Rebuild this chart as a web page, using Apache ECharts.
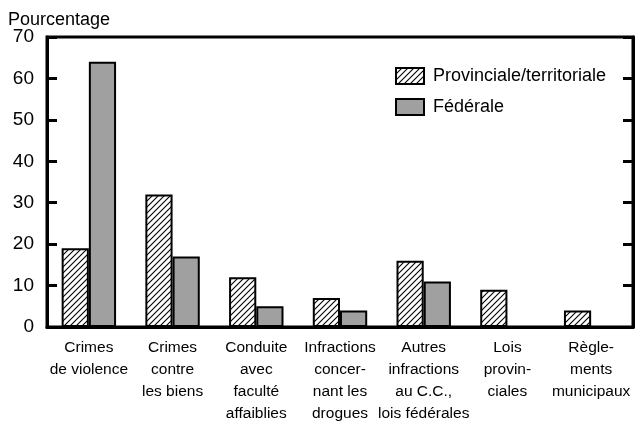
<!DOCTYPE html>
<html>
<head>
<meta charset="utf-8">
<script src="https://cdn.jsdelivr.net/npm/echarts@6/dist/echarts.min.js"></script>
<style>
  html, body { margin: 0; padding: 0; background: #fff; }
  #chart { width: 641px; height: 422px; }
</style>
</head>
<body>
<div id="chart"></div>
<script>
// categories on the x axis
const categories = [
  'Crimes\nde violence',
  'Crimes\ncontre\nles biens',
  'Conduite\navec\nfaculté\naffaiblies',
  'Infractions\nconcer-\nnant les\ndrogues',
  'Autres\ninfractions\nau C.C.,\nlois fédérales',
  'Lois\nprovin-\nciales',
  'Règle-\nments\nmunicipaux'
]
const provinciale = [19, 32, 12, 7, 16, 9, 4]
const federale = [64, 17, 5, 4, 11, null, null]
const yTicks = { min: 0, max: 70, interval: 10 }

const FONT = 'Liberation Sans, Arial, sans-serif'

// hatched fill for the provincial/territorial bars
function hatch() {
  const size = 6
  const c = document.createElement('canvas')
  c.width = size
  c.height = size
  const ctx = c.getContext('2d')
  ctx.fillStyle = '#fff'
  ctx.fillRect(0, 0, size, size)
  ctx.strokeStyle = '#000'
  ctx.lineWidth = 1.1
  ctx.beginPath()
  ctx.moveTo(-1, size + 1)
  ctx.lineTo(size + 1, -1)
  ctx.moveTo(-1, 1)
  ctx.lineTo(1, -1)
  ctx.moveTo(size - 1, size + 1)
  ctx.lineTo(size + 1, size - 1)
  ctx.stroke()
  return { image: c, repeat: 'repeat' }
}

const chart = echarts.init(document.getElementById('chart'))

const sideAxis = (position, showLabel) => ({
  type: 'value',
  position: position,
  min: yTicks.min,
  max: yTicks.max,
  interval: yTicks.interval,
  axisLine: { show: true, lineStyle: { color: '#000', width: 3 } },
  axisTick: { show: true, inside: true, length: 10, lineStyle: { color: '#000', width: 3 } },
  axisLabel: {
    show: showLabel,
    color: '#000',
    fontSize: 19,
    fontFamily: FONT,
    margin: 13
  },
  splitLine: { show: false }
})

chart.setOption({
  animation: false,
  textStyle: { fontFamily: FONT },
  title: {
    text: 'Pourcentage',
    left: 3,
    top: 6,
    textStyle: { fontSize: 18, fontWeight: 'normal', color: '#000', fontFamily: FONT }
  },
  legend: {
    orient: 'vertical',
    left: 395,
    top: 67,
    padding: 0,
    icon: 'rect',
    itemWidth: 28,
    itemHeight: 16,
    itemGap: 13,
    textStyle: { fontSize: 18, color: '#000', fontFamily: FONT, padding: [0, 0, 0, 4] },
    data: ['Provinciale/territoriale', 'Fédérale']
  },
  grid: {
    left: 47,
    right: 8,
    top: 37,
    bottom: 95,
    outerBoundsMode: 'none',
    containLabel: false,
    show: true,
    borderColor: '#000',
    borderWidth: 3,
    backgroundColor: 'transparent'
  },
  xAxis: {
    type: 'category',
    data: categories,
    axisLine: { show: true, lineStyle: { color: '#000', width: 3 } },
    axisTick: { show: false },
    axisLabel: {
      color: '#000',
      fontSize: 15.5,
      lineHeight: 22,
      fontFamily: FONT,
      margin: 10,
      interval: 0,
      align: 'center'
    }
  },
  yAxis: [sideAxis('left', true), sideAxis('right', false)],
  series: [
    {
      name: 'Provinciale/territoriale',
      type: 'bar',
      data: provinciale,
      barGap: '0%',
      barCategoryGap: '35%',
      itemStyle: { color: hatch(), borderColor: '#000', borderWidth: 2 }
    },
    {
      name: 'Fédérale',
      type: 'bar',
      data: federale,
      itemStyle: { color: '#a0a0a0', borderColor: '#000', borderWidth: 2 }
    }
  ]
})
</script>
</body>
</html>
